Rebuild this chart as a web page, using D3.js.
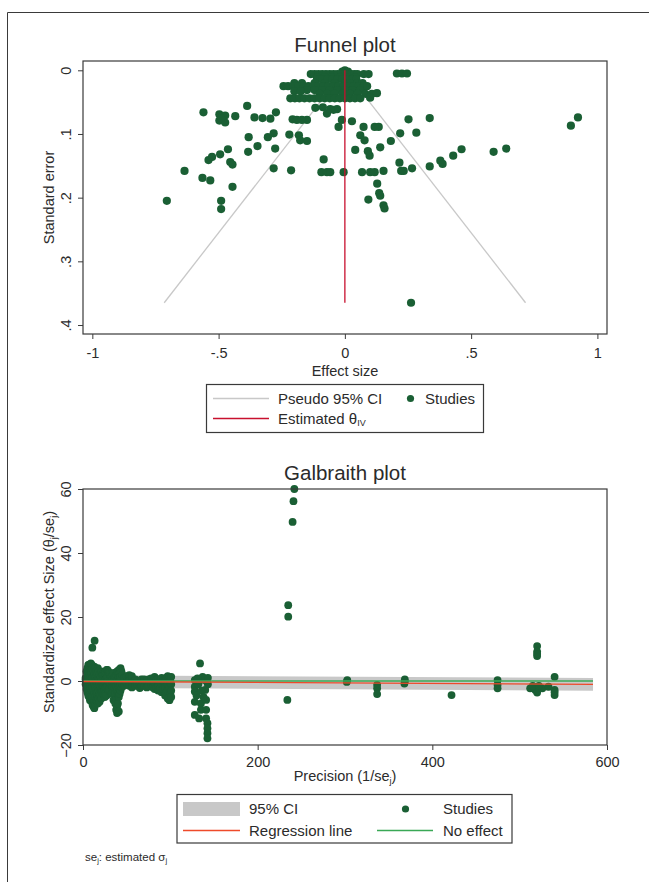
<!DOCTYPE html>
<html>
<head>
<meta charset="utf-8">
<script src="https://cdn.jsdelivr.net/npm/d3@7"></script>
<style>
  body { margin: 0; background: #fff; }
  svg { display: block; font-family: "Liberation Sans", Arial, sans-serif; }
</style>
</head>
<body>
<div id="chart"></div>
<script>
// ---- funnel plot data: [effect size, standard error]
const funnelStudies = [
  [0, 0], [-0.01, 0.002], [0.012, 0.002],
  [-0.135, 0.006], [-0.12, 0.006], [-0.105, 0.006], [-0.09, 0.006], [-0.075, 0.006], [-0.06, 0.006],
  [-0.045, 0.006], [-0.03, 0.006], [-0.015, 0.006], [0, 0.006], [0.012, 0.006], [0.025, 0.006],
  [0.038, 0.006], [0.05, 0.006], [0.075, 0.006], [0.094, 0.006], [0.206, 0.005], [0.226, 0.005], [0.246, 0.005],
  [-0.11, 0.011], [-0.08, 0.011], [-0.05, 0.011], [-0.02, 0.011], [0.01, 0.011], [0.04, 0.011],
  [-0.11, 0.014], [-0.09, 0.014], [-0.07, 0.014], [-0.05, 0.014], [-0.03, 0.014], [-0.01, 0.014],
  [0.01, 0.014], [0.03, 0.014], [0.045, 0.014],
  [-0.2, 0.02], [-0.17, 0.02], [-0.12, 0.02], [-0.08, 0.02], [-0.04, 0.02], [0, 0.02], [0.02, 0.02], [0.05, 0.02], [0.07, 0.02],
  [-0.243, 0.025], [-0.225, 0.025], [-0.205, 0.025], [-0.185, 0.025], [-0.165, 0.025], [-0.145, 0.025],
  [-0.125, 0.025], [-0.105, 0.025], [-0.085, 0.025], [-0.065, 0.025], [-0.045, 0.025], [-0.025, 0.025],
  [-0.005, 0.025], [0.015, 0.025], [0.035, 0.025], [0.055, 0.025], [0.075, 0.025], [0.088, 0.025],
  [-0.15, 0.031], [-0.12, 0.031], [-0.09, 0.031], [-0.06, 0.031], [-0.03, 0.031], [0, 0.031], [0.03, 0.031], [0.06, 0.031],
  [-0.2, 0.033], [-0.175, 0.033],
  [-0.1, 0.037], [-0.07, 0.037], [-0.04, 0.037], [-0.01, 0.037], [0.02, 0.037], [0.05, 0.037],
  [0.081, 0.037], [0.107, 0.037], [0.127, 0.036],
  [-0.216, 0.044], [-0.198, 0.044], [-0.18, 0.044], [-0.16, 0.044], [-0.14, 0.044], [-0.12, 0.044],
  [-0.1, 0.044], [-0.08, 0.044], [-0.06, 0.044], [-0.04, 0.044], [-0.02, 0.044], [0, 0.044],
  [0.02, 0.044], [0.04, 0.044], [0.061, 0.044], [0.1, 0.043],
  [-0.705, 0.205], [-0.635, 0.158], [-0.564, 0.169], [-0.533, 0.173], [-0.56, 0.066], [-0.497, 0.069],
  [-0.474, 0.071], [-0.497, 0.079], [-0.474, 0.082], [-0.49, 0.075], [-0.434, 0.072], [-0.49, 0.205],
  [-0.49, 0.218], [-0.445, 0.183], [-0.54, 0.141], [-0.526, 0.136], [-0.494, 0.132], [-0.463, 0.124],
  [-0.454, 0.144], [-0.445, 0.148], [-0.387, 0.056], [-0.381, 0.105], [-0.383, 0.128], [-0.346, 0.119],
  [-0.358, 0.074], [-0.326, 0.075], [-0.295, 0.076], [-0.273, 0.066], [-0.305, 0.105], [-0.282, 0.099],
  [-0.276, 0.123], [-0.282, 0.154], [-0.22, 0.101], [-0.213, 0.157], [-0.182, 0.102], [-0.177, 0.11],
  [-0.15, 0.111], [-0.207, 0.077], [-0.19, 0.078], [-0.15, 0.078], [-0.17, 0.078], [-0.084, 0.14],
  [-0.093, 0.16], [-0.071, 0.16], [-0.117, 0.059], [-0.087, 0.058], [-0.071, 0.068], [-0.045, 0.062],
  [-0.031, 0.061], [-0.058, 0.061], [-0.012, 0.078], [-0.025, 0.089], [0.028, 0.08], [0.074, 0.089],
  [0.118, 0.089], [0.134, 0.089], [0.061, 0.102], [0.078, 0.11], [0.14, 0.121], [0.182, 0.111],
  [0.219, 0.099], [0.252, 0.077], [0.283, 0.098], [0.041, 0.125], [0.091, 0.127], [0.098, 0.134],
  [-0.005, 0.16], [0.068, 0.16], [0.1, 0.16], [0.118, 0.16], [0.153, 0.158], [0.216, 0.145],
  [0.223, 0.158], [0.233, 0.158], [0.266, 0.154], [0.336, 0.075], [0.923, 0.074], [0.895, 0.087],
  [0.336, 0.151], [0.378, 0.142], [0.387, 0.147], [0.429, 0.134], [0.462, 0.124], [0.589, 0.128],
  [0.639, 0.123], [0.128, 0.178], [0.136, 0.193], [0.14, 0.197], [0.093, 0.203], [0.153, 0.212],
  [0.157, 0.217], [0.262, 0.365], [-0.058, 0.16]
]
const thetaIV = 0
const seMax = 0.365
const funnelXTicks = [-1, -0.5, 0, 0.5, 1]
const funnelYTicks = [0, 0.1, 0.2, 0.3, 0.4]

// ---- galbraith plot data: [precision 1/se, standardized effect]
const galbraithStudies = [
  [3, 1], [3, -1], [3, 0.5], [4, 3], [4, -0.5], [4, -2.5],
  [5, 4], [5, 2], [5, 0], [5, -2], [5, -3.5], [6, 5], [6, 1], [6, -3], [6, -4.5],
  [7, 5], [7, 3], [7, 1], [7, -1], [7, -3], [7, -5], [8, 4], [8, 2], [8, 0], [8, -2], [8, -4], [8, -6],
  [9, 5.5], [9, 3.5], [9, 1.5], [9, -1], [9, -3.5], [9, -6], [10, 5], [10, 2.5], [10, -0.5], [10, -3], [10, -6.5],
  [10.7, 10.4], [11, 4], [11, 1], [11, -2], [11, -5], [11, -7.5], [12, 3], [12, 0], [12, -3], [12, -6], [12, -8],
  [13.3, 12.6], [13, 4.5], [13, 2], [13, -1], [13, -4], [13, -6.5], [13, -8.5],
  [14, 4], [14, 1], [14, -2], [14, -5], [14, -7.5],
  [15, 3], [15, 0], [15, -3], [15, -6], [16, 2.5], [16, -0.5], [16, -3.5], [16, -6],
  [17, 4], [17, 1], [17, -2], [17, -5], [17, -7], [18, 3], [18, 0], [18, -3], [18, -5.5],
  [19, 2], [19, -1], [19, -4], [19, -6.5], [20, 1], [20, -2], [20, -4.5],
  [21, 3], [21, 0], [21, -3], [21, -5.5], [22, 2], [22, -1], [22, -3.5],
  [23, 1.5], [23, -1.5], [23, -4], [24, 1], [24, -1.5], [24, -3.5],
  [25, 2.5], [25, 0], [25, -2.5], [25, -5], [26, 3], [26, 0.5], [26, -2], [26, -4],
  [27, 3.5], [27, 1], [27, -2], [27, -4.5], [28, 3.5], [28, 1], [28, -1.5],
  [29, 3], [29, 0], [29, -3], [30, 2.5], [30, -0.5], [30, -2.5],
  [31, 2], [31, -1],
  [33, 1.5], [33, -1.5], [33, -4], [34, 0.5], [34, -2],
  [35, 2.5], [35, 0], [35, -3], [35, -6], [36, 1], [36, -2], [36, -5],
  [37, 1.5], [37, -1], [37, -4], [37, -7], [38, 2], [38, -1.5], [38, -5.5], [38, -9],
  [39, 3], [39, 0], [39, -3], [39, -8], [39, -10], [40, 2], [40, -1], [40, -4], [40, -7],
  [41, 3.5], [41, 1], [41, -2], [41, -5], [41, -9.5], [42, 2.5], [42, 0], [42, -4],
  [43, 4], [43, 1.5], [43, -1], [43, -3], [44, 3], [44, 0.5], [44, -2],
  [45, 2], [45, -1], [47, 1], [47, -1.5],
  [50, 1.5], [50, -0.5], [53, 1.8], [53, 0], [53, -1.5], [56, 1.5], [56, -0.5], [56, -2],
  [60, 0.5], [60, -1.5], [62, 0], [62, -1], [65, -1], [65, -2.2], [67, 0.5], [67, -1.5],
  [70, 0.5], [70, -1.5], [73, 0], [73, -2], [75, 0.5], [75, -1.5],
  [78, 0.8], [78, -1], [80, 0], [80, -2], [82, 1.3], [82, -0.5], [82, -2.5], [84, 0.5], [84, -2],
  [86, 0.5], [86, -1.5], [86, -3], [88, 0], [88, -2.5],
  [90, 1], [90, -1], [90, -3.5], [92, 0], [92, -2.5], [94, 0.5], [94, -2], [94, -4.5], [95, 1], [95, -3.5],
  [97, 1.5], [97, -1], [97, -3], [97, -5.5], [99, 1], [99, -2], [99, -6], [100, 0], [100, -4],
  [101, 1.3], [101, -1], [101, -3], [101, -5],
  [134, 5.5], [128, 0.3], [128, -1.8], [128, -3.3], [128, -6.5], [128, -10.6], [133, -11.7],
  [135, -7], [135, -9], [139, 0.3], [140, -2.8], [141, -5.9], [141, -9], [141, -11.7],
  [142.5, -13.2], [142.5, -14.8], [142.5, -16.3], [142.5, -17.9], [137, 1.3], [131, 0.8],
  [132, -1], [136, -3], [138, -5], [143, -1], [143, 1], [130, -4.5],
  [242, 60], [241, 56.2], [240, 49.7], [235, 23.7], [235, 20.1], [234, -5.9],
  [302.6, 0.3], [302, -0.3],
  [336.8, -1.2], [336.8, -2.3], [336.8, -4.1],
  [368.5, 0.5], [368.5, -0.2], [368, -0.8],
  [422, -4.4],
  [474.7, 0.3], [474.7, -1.2], [474.7, -2.3],
  [520, 10.9], [520, 9.2], [520, 7.8], [520, 8.5],
  [512, -2.3], [518, -2.8], [520, -3.6], [526, -2.3], [533, -1.8], [540, 1.3],
  [540, -2.8], [540, -4.4], [540, -3.5], [515, -1.5], [522, -1.5]
]
const regLine = [[0, -0.15], [584, -1.05]]
const noEffectLine = [[0, 0], [584, 0]]
const ciHalfWidth = 1.96
const galXTicks = [0, 200, 400, 600]
const galYTicks = [-20, 0, 20, 40, 60]

const studyColor = "#1a5f34"
const textColor = "#2b2b2b"
const frameColor = "#3a3a3a"

const W = 649, H = 882

const svg = d3.select("#chart")
  .append("svg")
    .attr("width", W)
    .attr("height", H)

// outer graph border (top and left edges only visible)
svg.append("path")
  .attr("d", "M7.5,882 L7.5,12.5 L649,12.5")
  .attr("fill", "none")
  .attr("stroke", frameColor)
  .attr("stroke-width", 1)

// stata style numbers: .5 instead of 0.5
const stataFmt = d => d === 0 ? "0" : String(d).replace("0.", ".")

function styleAxis(g) {
  g.select(".domain").remove()
  g.selectAll(".tick line").attr("stroke", frameColor)
  g.selectAll(".tick text")
    .attr("fill", textColor)
    .style("font-size", "14.5px")
    .style("font-family", '"Liberation Sans", Arial, sans-serif')
}

function drawFrame(x0, y0, x1, y1) {
  svg.append("rect")
    .attr("x", x0).attr("y", y0)
    .attr("width", x1 - x0).attr("height", y1 - y0)
    .attr("fill", "none")
    .attr("stroke", frameColor)
    .attr("stroke-width", 1.2)
}

// ===================== Funnel plot =====================
const fp = {left: 83, right: 607, top: 61, bottom: 334}

const fx = d3.scaleLinear().domain([-1.037, 1.038]).range([fp.left, fp.right])
const fy = d3.scaleLinear().domain([-0.0146, 0.4141]).range([fp.top, fp.bottom])

svg.append("text")
  .attr("x", 345).attr("y", 52)
  .attr("text-anchor", "middle")
  .attr("fill", textColor)
  .style("font-size", "20.5px")
  .text("Funnel plot")

// pseudo 95% CI
const ciLeft = [[thetaIV, 0], [thetaIV - 1.96 * seMax, seMax]]
const ciRight = [[thetaIV, 0], [thetaIV + 1.96 * seMax, seMax]]
const fline = d3.line().x(d => fx(d[0])).y(d => fy(d[1]))

svg.append("g").selectAll("path")
  .data([ciLeft, ciRight])
  .enter().append("path")
    .attr("d", fline)
    .attr("fill", "none")
    .attr("stroke", "#c8c8c8")
    .attr("stroke-width", 1.3)

svg.append("g").selectAll("circle")
  .data(funnelStudies)
  .enter().append("circle")
    .attr("cx", d => fx(d[0]))
    .attr("cy", d => fy(d[1]))
    .attr("r", 4.1)
    .attr("fill", studyColor)

svg.append("path")
  .attr("d", fline([[thetaIV, 0], [thetaIV, seMax]]))
  .attr("fill", "none")
  .attr("stroke", "#c8102e")
  .attr("stroke-width", 1.3)

drawFrame(fp.left, fp.top, fp.right, fp.bottom)

svg.append("g")
  .attr("transform", "translate(0," + fp.bottom + ")")
  .call(d3.axisBottom(fx).tickValues(funnelXTicks).tickFormat(stataFmt).tickSize(5))
  .call(styleAxis)
  .call(g => g.selectAll(".tick text").attr("y", 14))

svg.append("g")
  .attr("transform", "translate(" + fp.left + ",0)")
  .call(d3.axisLeft(fy).tickValues(funnelYTicks).tickFormat(stataFmt).tickSize(5))
  .call(styleAxis)
  .call(g => g.selectAll(".tick text")
    .attr("transform", "rotate(-90)")
    .attr("x", 0).attr("y", -12.5).attr("dy", 0)
    .attr("text-anchor", "middle"))

svg.append("text")
  .attr("x", 345).attr("y", 376)
  .attr("text-anchor", "middle")
  .attr("fill", textColor)
  .style("font-size", "14.5px")
  .text("Effect size")

svg.append("text")
  .attr("transform", "translate(54,197.5) rotate(-90)")
  .attr("text-anchor", "middle")
  .attr("fill", textColor)
  .style("font-size", "14.5px")
  .text("Standard error")

// funnel legend
const fl = svg.append("g")
fl.append("rect")
  .attr("x", 206.5).attr("y", 384.5).attr("width", 277).attr("height", 48)
  .attr("fill", "#fff").attr("stroke", frameColor).attr("stroke-width", 1.2)
fl.append("line")
  .attr("x1", 213).attr("x2", 269).attr("y1", 398.5).attr("y2", 398.5)
  .attr("stroke", "#c8c8c8").attr("stroke-width", 1.3)
fl.append("line")
  .attr("x1", 213).attr("x2", 269).attr("y1", 418.5).attr("y2", 418.5)
  .attr("stroke", "#c8102e").attr("stroke-width", 1.3)
fl.append("circle")
  .attr("cx", 410.5).attr("cy", 398.5).attr("r", 3.6).attr("fill", studyColor)
fl.append("text")
  .attr("x", 278).attr("y", 403.7)
  .attr("fill", textColor).style("font-size", "15px")
  .text("Pseudo 95% CI")
fl.append("text")
  .attr("x", 425).attr("y", 403.7)
  .attr("fill", textColor).style("font-size", "15px")
  .text("Studies")
const estText = fl.append("text")
  .attr("x", 278).attr("y", 423.7)
  .attr("fill", textColor).style("font-size", "15px")
estText.append("tspan").text("Estimated θ")
estText.append("tspan").attr("dy", 2.5).style("font-size", "9px").text("IV")

// ===================== Galbraith plot =====================
const gp = {left: 83, right: 607, top: 489, bottom: 745}

const gx = d3.scaleLinear().domain([0, 600]).range([gp.left, gp.right])
const gy = d3.scaleLinear().domain([-20, 60]).range([gp.bottom, gp.top])

svg.append("text")
  .attr("x", 345).attr("y", 480)
  .attr("text-anchor", "middle")
  .attr("fill", textColor)
  .style("font-size", "20.5px")
  .text("Galbraith plot")

// 95% CI band round the regression line
const band = d3.area()
  .x(d => gx(d[0]))
  .y0(d => gy(d[1] - ciHalfWidth))
  .y1(d => gy(d[1] + ciHalfWidth))

svg.append("path")
  .attr("d", band(regLine))
  .attr("fill", "#c8c8c8")

svg.append("g").selectAll("circle")
  .data(galbraithStudies)
  .enter().append("circle")
    .attr("cx", d => gx(d[0]))
    .attr("cy", d => gy(d[1]))
    .attr("r", 3.9)
    .attr("fill", studyColor)

const gline = d3.line().x(d => gx(d[0])).y(d => gy(d[1]))

svg.append("path")
  .attr("d", gline(noEffectLine))
  .attr("fill", "none").attr("stroke", "#3aa856").attr("stroke-width", 1.3)

svg.append("path")
  .attr("d", gline(regLine))
  .attr("fill", "none").attr("stroke", "#ee4a2a").attr("stroke-width", 1.3)

drawFrame(gp.left, gp.top, gp.right, gp.bottom)

svg.append("g")
  .attr("transform", "translate(0," + gp.bottom + ")")
  .call(d3.axisBottom(gx).tickValues(galXTicks).tickSize(5))
  .call(styleAxis)
  .call(g => g.selectAll(".tick text").attr("y", 12))

svg.append("g")
  .attr("transform", "translate(" + gp.left + ",0)")
  .call(d3.axisLeft(gy).tickValues(galYTicks).tickSize(5))
  .call(styleAxis)
  .call(g => g.selectAll(".tick text")
    .attr("transform", "rotate(-90)")
    .attr("x", 0).attr("y", -12.5).attr("dy", 0)
    .attr("text-anchor", "middle"))

const xt = svg.append("text")
  .attr("x", 345).attr("y", 781)
  .attr("text-anchor", "middle")
  .attr("fill", textColor)
  .style("font-size", "14.5px")
xt.append("tspan").text("Precision (1/se")
xt.append("tspan").attr("dy", 3).style("font-size", "9px").text("j")
xt.append("tspan").attr("dy", -3).text(")")

const yt = svg.append("text")
  .attr("transform", "translate(53.5,612) rotate(-90)")
  .attr("text-anchor", "middle")
  .attr("fill", textColor)
  .style("font-size", "14.5px")
yt.append("tspan").text("Standardized effect Size (θ")
yt.append("tspan").attr("dy", 3).style("font-size", "9px").text("j")
yt.append("tspan").attr("dy", -3).text("/se")
yt.append("tspan").attr("dy", 3).style("font-size", "9px").text("j")
yt.append("tspan").attr("dy", -3).text(")")

// galbraith legend
const gl = svg.append("g")
gl.append("rect")
  .attr("x", 177).attr("y", 794.5).attr("width", 335).attr("height", 48.5)
  .attr("fill", "#fff").attr("stroke", frameColor).attr("stroke-width", 1.2)
gl.append("rect")
  .attr("x", 183).attr("y", 802).attr("width", 57).attr("height", 14)
  .attr("fill", "#c8c8c8")
gl.append("line")
  .attr("x1", 183).attr("x2", 240).attr("y1", 830.5).attr("y2", 830.5)
  .attr("stroke", "#ee4a2a").attr("stroke-width", 1.3)
gl.append("line")
  .attr("x1", 377).attr("x2", 433).attr("y1", 830.5).attr("y2", 830.5)
  .attr("stroke", "#3aa856").attr("stroke-width", 1.3)
gl.append("circle")
  .attr("cx", 405.5).attr("cy", 809).attr("r", 3.6).attr("fill", studyColor)
const glTexts = [
  ["95% CI", 249, 814],
  ["Studies", 443, 814],
  ["Regression line", 249, 835.5],
  ["No effect", 443, 835.5]
]
gl.selectAll("text.lab")
  .data(glTexts)
  .enter().append("text")
    .attr("class", "lab")
    .attr("x", d => d[1]).attr("y", d => d[2])
    .attr("fill", textColor).style("font-size", "15px")
    .text(d => d[0])

// footnote
const note = svg.append("text")
  .attr("x", 85).attr("y", 861)
  .attr("fill", textColor)
  .style("font-size", "11.5px")
note.append("tspan").text("se")
note.append("tspan").attr("dy", 2).style("font-size", "7.5px").text("j")
note.append("tspan").attr("dy", -2).text(": estimated σ")
note.append("tspan").attr("dy", 2).style("font-size", "7.5px").text("j")
</script>
</body>
</html>
